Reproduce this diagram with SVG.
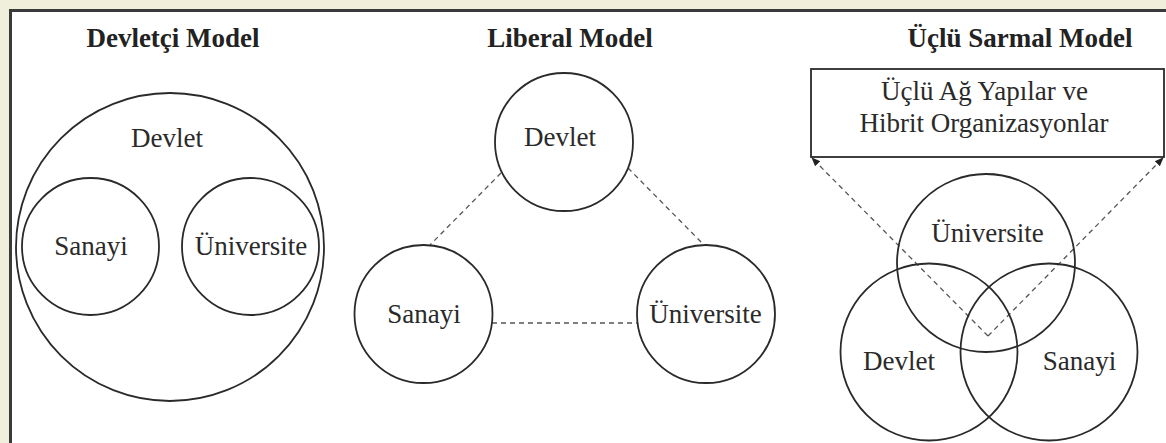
<svg xmlns="http://www.w3.org/2000/svg" width="1166" height="443" viewBox="0 0 1166 443">
<defs>
<style>
.c{fill:none;stroke:#2a2a2a;stroke-width:1.8}
.t{font-family:"Liberation Serif","Times New Roman",serif;font-size:27px;fill:#2a2a2a;text-anchor:middle}
.h{font-family:"Liberation Serif","Times New Roman",serif;font-size:27px;font-weight:bold;fill:#222;text-anchor:middle}
.d{fill:none;stroke:#555;stroke-width:1.3;stroke-dasharray:5 4}
</style>
<marker id="ah" viewBox="0 0 10 10" refX="9" refY="5" markerWidth="9" markerHeight="9" markerUnits="userSpaceOnUse" orient="auto">
<path d="M0,1 L10,5 L0,9 Z" fill="#222"/>
</marker>
</defs>
<rect x="0" y="0" width="1166" height="443" fill="#f0efdc"/>
<rect x="10.5" y="10.5" width="1170" height="450" fill="#fff" stroke="#3a3a3a" stroke-width="3"/>

<g id="titles">
<text class="h" x="173" y="47">Devletçi Model</text>
<text class="h" x="570" y="47">Liberal Model</text>
<text class="h" x="1020" y="47">Üçlü Sarmal Model</text>
</g>

<g id="statist-devlet"><circle class="c" cx="170" cy="247" r="154"/><text class="t" x="167" y="147">Devlet</text></g>
<g id="statist-sanayi"><circle class="c" cx="90.5" cy="246.5" r="68.5"/><text class="t" x="91" y="255">Sanayi</text></g>
<g id="statist-universite"><circle class="c" cx="250.5" cy="246.5" r="68.5"/><text class="t" x="251" y="255">Üniversite</text></g>

<g id="connectors">
<line class="d" x1="501" y1="173" x2="430" y2="245"/>
<line class="d" x1="628" y1="168" x2="704" y2="245"/>
<line class="d" x1="492" y1="323" x2="637" y2="323"/>
<line class="d" x1="988" y1="336" x2="812" y2="158" marker-end="url(#ah)"/>
<line class="d" x1="988" y1="336" x2="1163" y2="158" marker-end="url(#ah)"/>
</g>

<g id="liberal-devlet"><circle class="c" cx="564" cy="142" r="69"/><text class="t" x="560" y="146">Devlet</text></g>
<g id="liberal-sanayi"><circle class="c" cx="423.5" cy="314" r="69"/><text class="t" x="424" y="323">Sanayi</text></g>
<g id="liberal-universite"><circle class="c" cx="706" cy="314" r="69"/><text class="t" x="705.5" y="323">Üniversite</text></g>

<g id="hybrid-box"><rect x="811" y="69" width="353" height="88" fill="none" stroke="#2a2a2a" stroke-width="1.8"/>
<text class="t" x="984.5" y="100">Üçlü Ağ Yapılar ve</text>
<text class="t" x="984" y="132">Hibrit Organizasyonlar</text></g>

<g id="helix-universite"><circle class="c" cx="986" cy="263" r="89"/><text class="t" x="987.5" y="242">Üniversite</text></g>
<g id="helix-devlet"><circle class="c" cx="929" cy="352" r="88.5"/><text class="t" x="899" y="370">Devlet</text></g>
<g id="helix-sanayi"><circle class="c" cx="1049" cy="352" r="88.5"/><text class="t" x="1079.5" y="370">Sanayi</text></g>
</svg>
